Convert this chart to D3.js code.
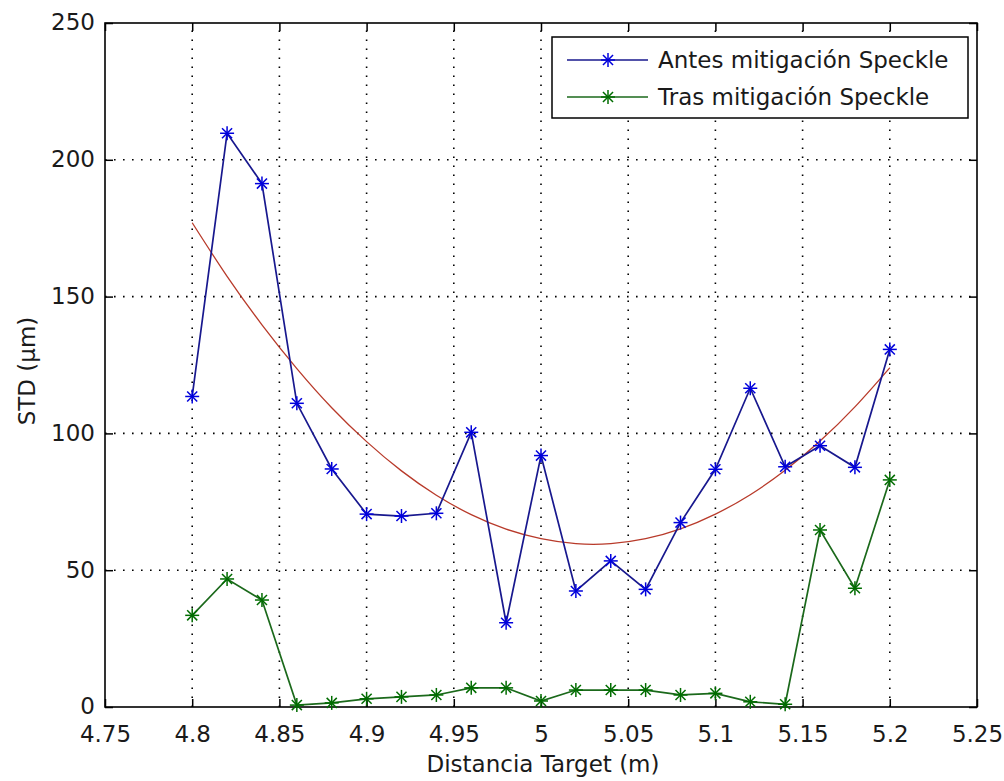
<!DOCTYPE html>
<html>
<head>
<meta charset="utf-8">
<script src="https://cdn.jsdelivr.net/npm/d3@7"></script>
<style>
  html, body { margin: 0; padding: 0; background: #fff; }
  svg { display: block; }
  text { font-family: "DejaVu Sans", Verdana, sans-serif; fill: #1a1a1a; }
</style>
</head>
<body>
<svg id="chart" width="1004" height="781"></svg>
<script>
// ---- data ----
const distances = [4.80, 4.82, 4.84, 4.86, 4.88, 4.90, 4.92, 4.94, 4.96, 4.98, 5.00,
                   5.02, 5.04, 5.06, 5.08, 5.10, 5.12, 5.14, 5.16, 5.18, 5.20];
const antesValues = [113.5, 209.7, 191.3, 111.0, 87.0, 70.5, 69.8, 70.8, 100.4, 30.8, 91.9,
                     42.4, 53.4, 43.0, 67.4, 86.9, 116.5, 87.8, 95.5, 87.6, 130.7];
const trasValues = [33.5, 46.8, 39.1, 0.7, 1.5, 3.0, 3.7, 4.4, 7.0, 7.0, 2.2,
                    6.2, 6.2, 6.2, 4.4, 5.0, 1.9, 1.0, 64.7, 43.4, 83.0];
const fitValues = [177.0, 157.4, 139.7, 123.7, 109.4, 97.0, 86.3, 77.4, 70.3, 65.0, 61.5,
                   59.7, 59.7, 61.5, 65.1, 70.5, 77.6, 86.5, 97.2, 109.7, 124.0];
const xTicks = [4.75, 4.80, 4.85, 4.90, 4.95, 5.00, 5.05, 5.10, 5.15, 5.20, 5.25];
const xTickLabels = ["4.75", "4.8", "4.85", "4.9", "4.95", "5", "5.05", "5.1", "5.15", "5.2", "5.25"];
const yTicks = [0, 50, 100, 150, 200, 250];
const seriesNames = ["Antes mitigación Speckle", "Tras mitigación Speckle"];
const xLabel = "Distancia Target (m)";
const yLabel = "STD (\u03BCm)";

// ---- layout ----
const svg = d3.select("#chart");
const L = 105, R = 977, T = 23, B = 707;
const fontSize = 23;
const fontFam = "DejaVu Sans, Verdana, sans-serif";
const x = d3.scaleLinear().domain([4.75, 5.25]).range([L, R]);
const y = d3.scaleLinear().domain([0, 250]).range([B, T]);

const blueLine = "#18188e", blueMark = "#0000dc";
const greenLine = "#1b691b", greenMark = "#006c00";
const redLine = "#b83a2a";

// grid
const grid = svg.append("g");
grid.selectAll("line.gx").data(xTicks.slice(1, -1)).join("line")
  .attr("x1", d => x(d)).attr("x2", d => x(d)).attr("y1", B).attr("y2", T)
  .attr("stroke", "#000").attr("stroke-width", 1.6).attr("stroke-dasharray", "1.6,7.4");
grid.selectAll("line.gy").data(yTicks.slice(1, -1)).join("line")
  .attr("y1", d => y(d)).attr("y2", d => y(d)).attr("x1", L).attr("x2", R)
  .attr("stroke", "#000").attr("stroke-width", 1.6).attr("stroke-dasharray", "1.6,7.4");

// axes (inward ticks on all sides)
const tickLen = 8;
const fmtX = (d) => xTickLabels[xTicks.indexOf(d)];
const axB = svg.append("g").attr("transform", `translate(0,${B})`)
  .call(d3.axisBottom(x).tickValues(xTicks).tickFormat(fmtX).tickSizeInner(-tickLen).tickSizeOuter(0));
const axT = svg.append("g").attr("transform", `translate(0,${T})`)
  .call(d3.axisTop(x).tickValues(xTicks).tickFormat("").tickSizeInner(-tickLen).tickSizeOuter(0));
const axL = svg.append("g").attr("transform", `translate(${L},0)`)
  .call(d3.axisLeft(y).tickValues(yTicks).tickFormat(d3.format("d")).tickSizeInner(-tickLen).tickSizeOuter(0).tickPadding(10));
const axR = svg.append("g").attr("transform", `translate(${R},0)`)
  .call(d3.axisRight(y).tickValues(yTicks).tickFormat("").tickSizeInner(-tickLen).tickSizeOuter(0));
[axB, axT, axL, axR].forEach(g => {
  g.select(".domain").remove();
  g.selectAll(".tick line").attr("stroke", "#000").attr("stroke-width", 1.5);
  g.selectAll("text").attr("font-size", fontSize).attr("fill", "#1a1a1a")
    .attr("font-family", fontFam);
});
axB.selectAll("text").attr("y", 18).attr("dy", "0.72em");
axL.selectAll("text").attr("dy", "0.3em");
svg.append("rect").attr("x", L).attr("y", T).attr("width", R - L).attr("height", B - T)
  .attr("fill", "none").attr("stroke", "#000").attr("stroke-width", 1.6);

// labels
svg.append("text").attr("x", (L + R) / 2 + 2).attr("y", 772).attr("text-anchor", "middle")
  .attr("font-size", fontSize).text(xLabel);
svg.append("text").attr("transform", `translate(35,${(T + B) / 2 + 6}) rotate(-90)`)
  .attr("text-anchor", "middle").attr("font-size", fontSize).text(yLabel);

// marker helper: asterisk
function star(g, cx, cy, color, r) {
  const d = r * 0.72;
  const segs = [[-r, 0, r, 0], [0, -r, 0, r], [-d, -d, d, d], [-d, d, d, -d]];
  segs.forEach(s => g.append("line")
    .attr("x1", cx + s[0]).attr("y1", cy + s[1]).attr("x2", cx + s[2]).attr("y2", cy + s[3])
    .attr("stroke", color).attr("stroke-width", 1.5));
}

// series
const pts = (vals) => distances.map((d, i) => [d, vals[i]]);
const lineGen = d3.line().x(d => x(d[0])).y(d => y(d[1]));
const curveGen = d3.line().x(d => x(d[0])).y(d => y(d[1])).curve(d3.curveNatural);

svg.append("path").datum(pts(fitValues)).attr("d", curveGen)
  .attr("fill", "none").attr("stroke", redLine).attr("stroke-width", 1.3);

svg.append("path").datum(pts(antesValues)).attr("d", lineGen)
  .attr("fill", "none").attr("stroke", blueLine).attr("stroke-width", 1.7);
const gB = svg.append("g");
pts(antesValues).forEach(p => star(gB, x(p[0]), y(p[1]), blueMark, 7));

svg.append("path").datum(pts(trasValues)).attr("d", lineGen)
  .attr("fill", "none").attr("stroke", greenLine).attr("stroke-width", 1.7);
const gG = svg.append("g");
pts(trasValues).forEach(p => star(gG, x(p[0]), y(p[1]), greenMark, 7));

// legend
const lg = svg.append("g");
const lgL = 552, lgT = 37, lgR = 968, lgB = 118;
lg.append("rect").attr("x", lgL).attr("y", lgT).attr("width", lgR - lgL).attr("height", lgB - lgT)
  .attr("fill", "#fff").attr("stroke", "#000").attr("stroke-width", 1.5);
const rowsY = [60, 97];
const lineCols = [blueLine, greenLine], markCols = [blueMark, greenMark];
seriesNames.forEach((name, i) => {
  lg.append("line").attr("x1", 567).attr("x2", 648).attr("y1", rowsY[i]).attr("y2", rowsY[i])
    .attr("stroke", lineCols[i]).attr("stroke-width", 1.7);
  star(lg, 608, rowsY[i], markCols[i], 7);
  lg.append("text").attr("x", 658).attr("y", rowsY[i]).attr("dy", "0.36em")
    .attr("font-size", fontSize).text(name);
});
</script>
</body>
</html>
